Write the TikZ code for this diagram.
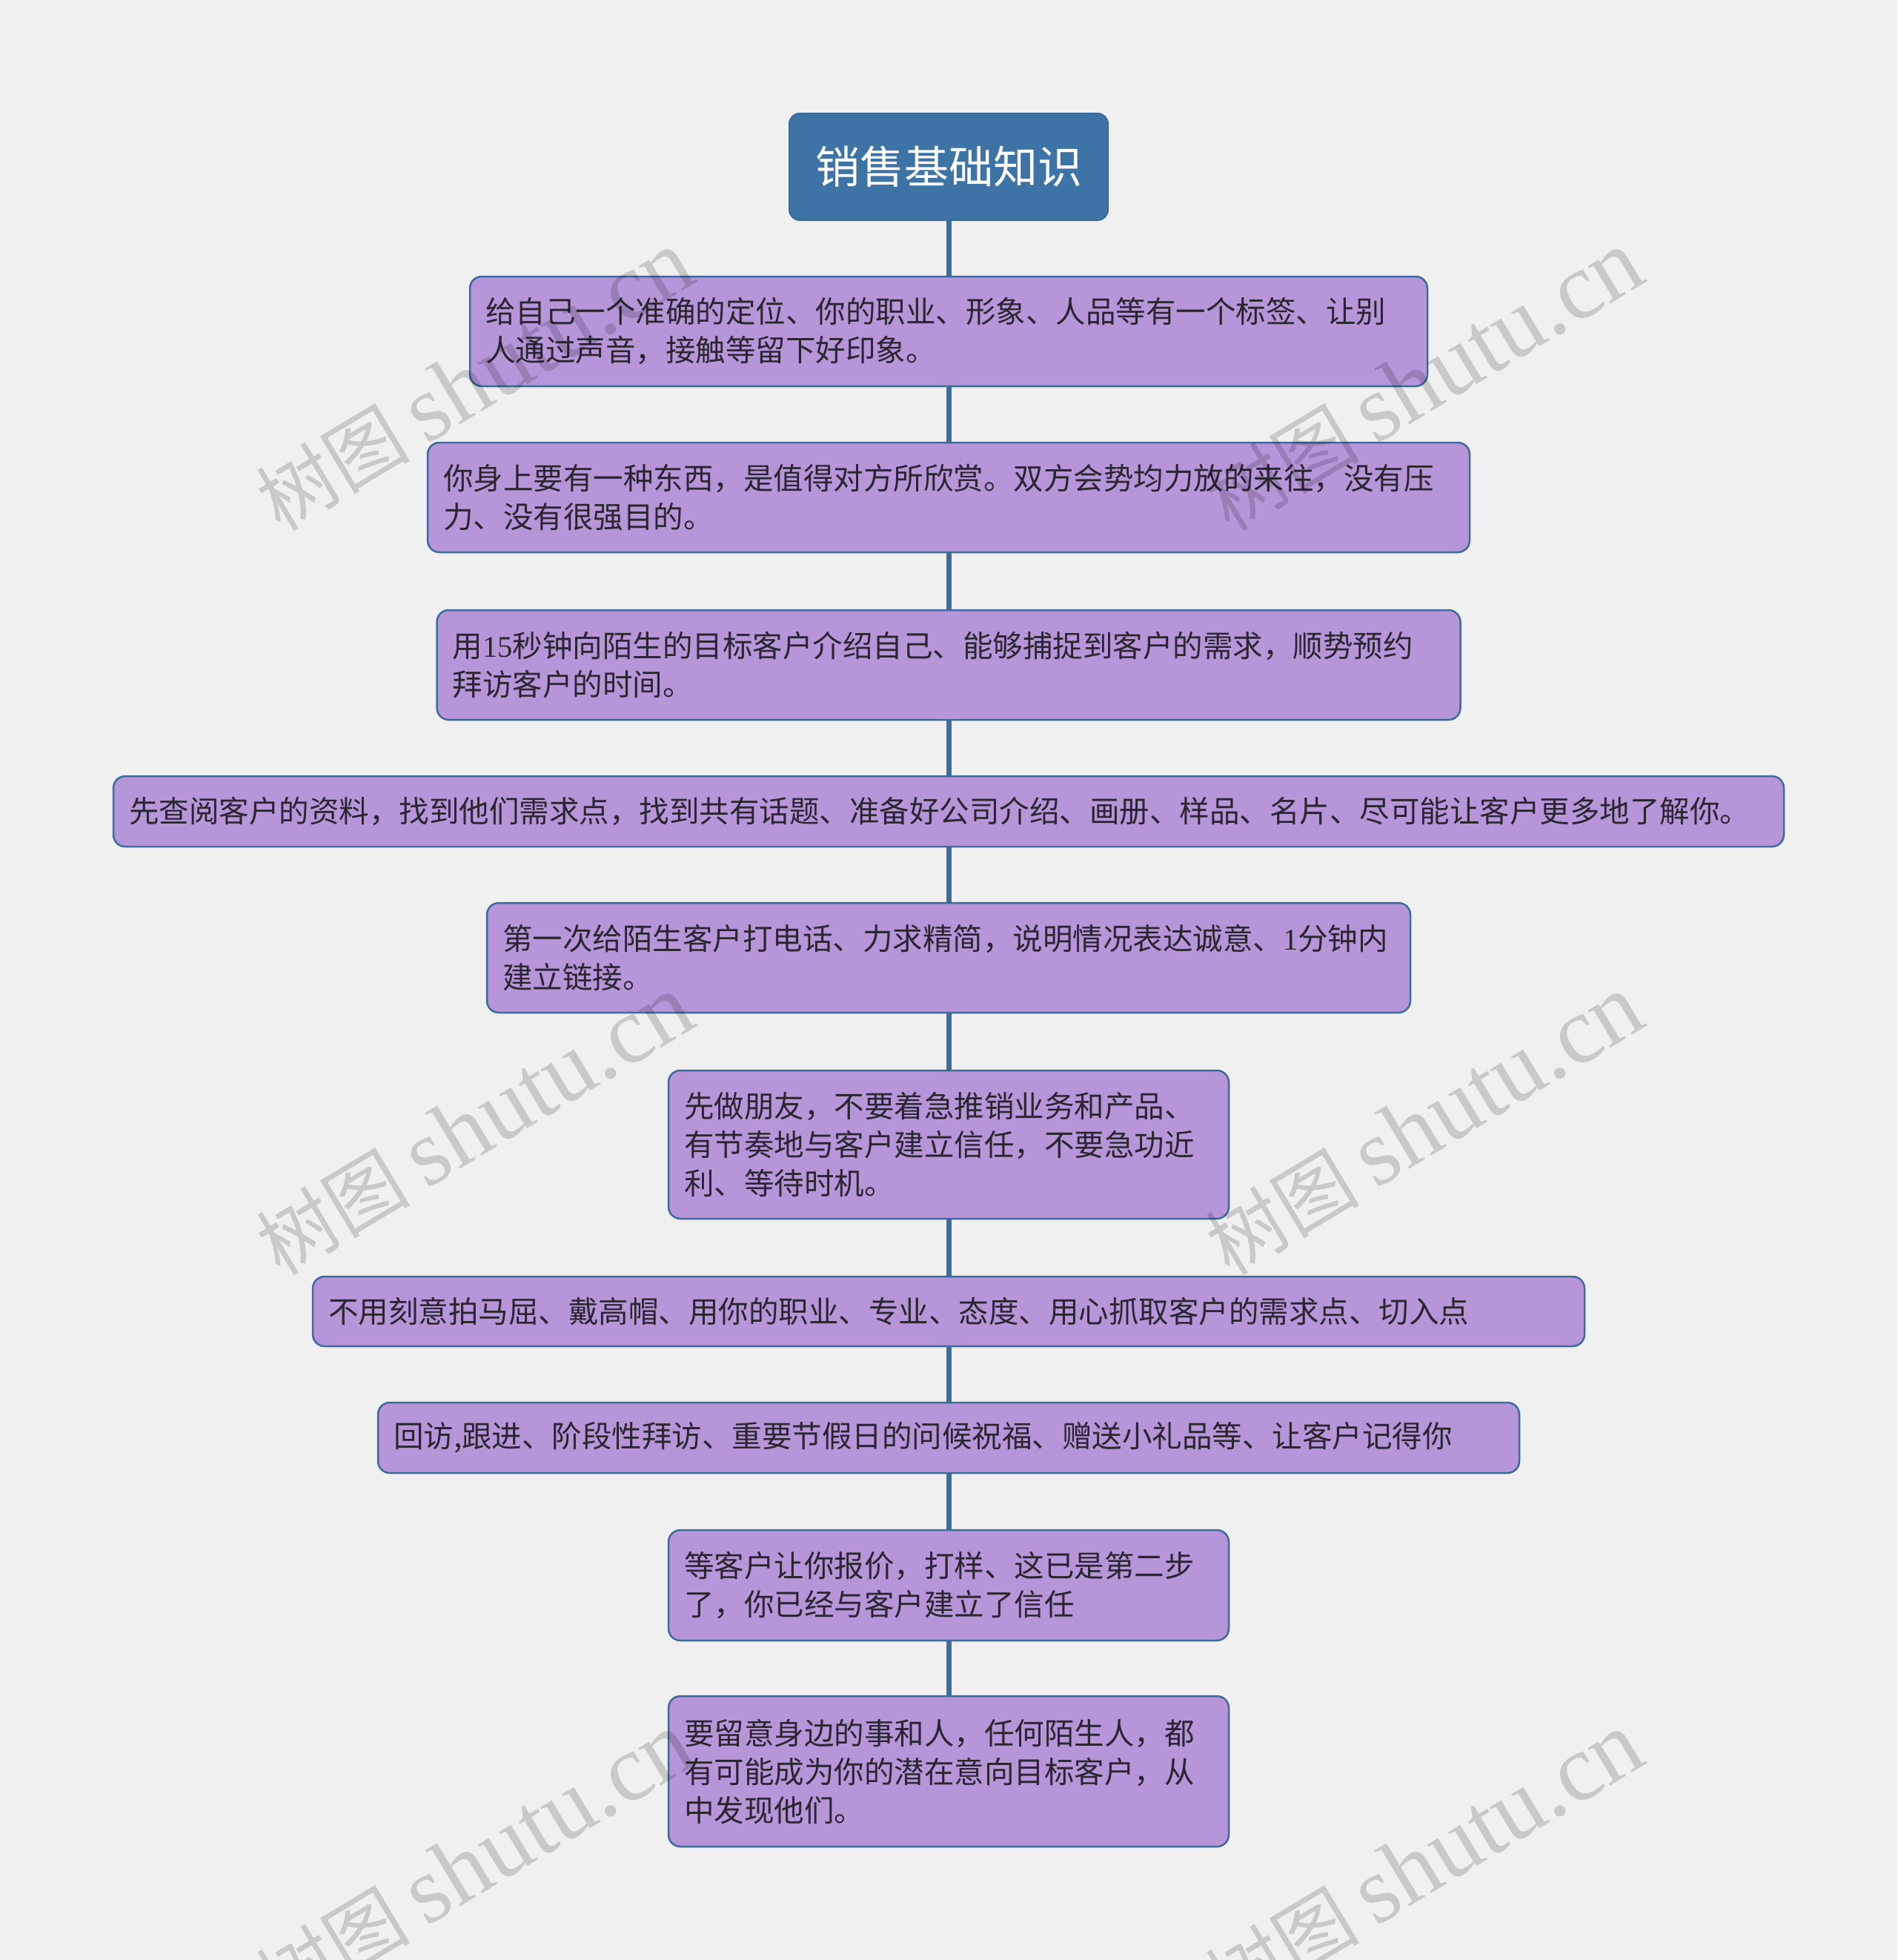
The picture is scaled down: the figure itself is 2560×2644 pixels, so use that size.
\documentclass[tikz,border=0pt]{standalone}
\usepackage{fontspec}
\setmainfont{Noto Sans CJK SC}
\newfontfamily\digitfont{Liberation Serif}
\newfontfamily\wmlatin{Liberation Serif}
\newfontfamily\wmcjk{Noto Sans CJK SC}
\definecolor{bgc}{HTML}{F0F0F0}
\definecolor{rootfill}{HTML}{3E74A5}
\definecolor{rootline}{HTML}{3A6B9A}
\definecolor{boxfill}{HTML}{B696D9}
\definecolor{boxline}{HTML}{3D6B9B}
\definecolor{linkc}{HTML}{3E6E9E}
\definecolor{txtc}{HTML}{2A2530}
\tikzset{
  rootbox/.style={draw=rootline, line width=2pt, fill=rootfill, rounded corners=14pt,
    text=white, font=\fontsize{60}{72}\selectfont, inner sep=0pt},
  itembox/.style={draw=boxline, line width=2.5pt, fill=boxfill, rounded corners=16pt,
    text=txtc, font=\fontsize{40.5}{52}\selectfont, inner xsep=21pt, inner ysep=4pt, align=left},
  link/.style={draw=linkc, line width=7pt},
  wmark/.style={text=black, opacity=0.16, rotate=31, inner sep=0pt}
}
\begin{document}
\begin{tikzpicture}[x=1pt,y=-1pt]
\fill[bgc] (0,0) rectangle (2560,2644);
\useasboundingbox (0,0) rectangle (2560,2644);

\node[rootbox, minimum width=430pt, minimum height=144pt] (r) at (1280,225) {销售基础知识};

\node[itembox, text width=1250pt, minimum height=148pt] (b1) at (1280,447)
  {给自己一个准确的定位、你的职业、形象、人品等有一个标签、让别\\人通过声音，接触等留下好印象。};
\node[itembox, text width=1364pt, minimum height=148pt] (b2) at (1280,671)
  {你身上要有一种东西，是值得对方所欣赏。双方会势均力放的来往，没有压\\力、没有很强目的。};
\node[itembox, text width=1339pt, minimum height=148pt] (b3) at (1280,897)
  {用{\digitfont 15}秒钟向陌生的目标客户介绍自己、能够捕捉到客户的需求，顺势预约\\拜访客户的时间。};
\node[itembox, text width=2212pt, minimum height=95pt] (b4) at (1280,1094.5)
  {先查阅客户的资料，找到他们需求点，找到共有话题、准备好公司介绍、画册、样品、名片、尽可能让客户更多地了解你。};
\node[itembox, text width=1204pt, minimum height=148pt] (b5) at (1280,1292)
  {第一次给陌生客户打电话、力求精简，说明情况表达诚意、{\digitfont 1}分钟内\\建立链接。};
\node[itembox, text width=714pt, minimum height=200pt] (b6) at (1280,1544)
  {先做朋友，不要着急推销业务和产品、\\有节奏地与客户建立信任，不要急功近\\利、等待时机。};
\node[itembox, text width=1674pt, minimum height=94pt] (b7) at (1280,1769)
  {不用刻意拍马屈、戴高帽、用你的职业、专业、态度、用心抓取客户的需求点、切入点};
\node[itembox, text width=1498pt, minimum height=95pt] (b8) at (1280,1939.5)
  {回访,跟进、阶段性拜访、重要节假日的问候祝福、赠送小礼品等、让客户记得你};
\node[itembox, text width=714pt, minimum height=149pt] (b9) at (1280,2138.5)
  {等客户让你报价，打样、这已是第二步\\了，你已经与客户建立了信任};
\node[itembox, text width=714pt, minimum height=203pt] (b10) at (1280,2389.5)
  {要留意身边的事和人，任何陌生人，都\\有可能成为你的潜在意向目标客户，从\\中发现他们。};

\path[link] (r.south) -- (b1.north);
\path[link] (b1.south) -- (b2.north);
\path[link] (b2.south) -- (b3.north);
\path[link] (b3.south) -- (b4.north);
\path[link] (b4.south) -- (b5.north);
\path[link] (b5.south) -- (b6.north);
\path[link] (b6.south) -- (b7.north);
\path[link] (b7.south) -- (b8.north);
\path[link] (b8.south) -- (b9.north);
\path[link] (b9.south) -- (b10.north);

\foreach \wx/\wy/\wn in {641/514/w1, 1922/514/w2, 641/1518/w3, 1922/1518/w4, 641/2513/w5, 1922/2513/w6}{
  \node[wmark] (\wn) at (\wx,\wy) {{\fontsize{104}{104}\selectfont\wmcjk 树图}\hspace{22pt}{\fontsize{128}{128}\selectfont\wmlatin shutu.cn}};
}
\end{tikzpicture}
\end{document}
